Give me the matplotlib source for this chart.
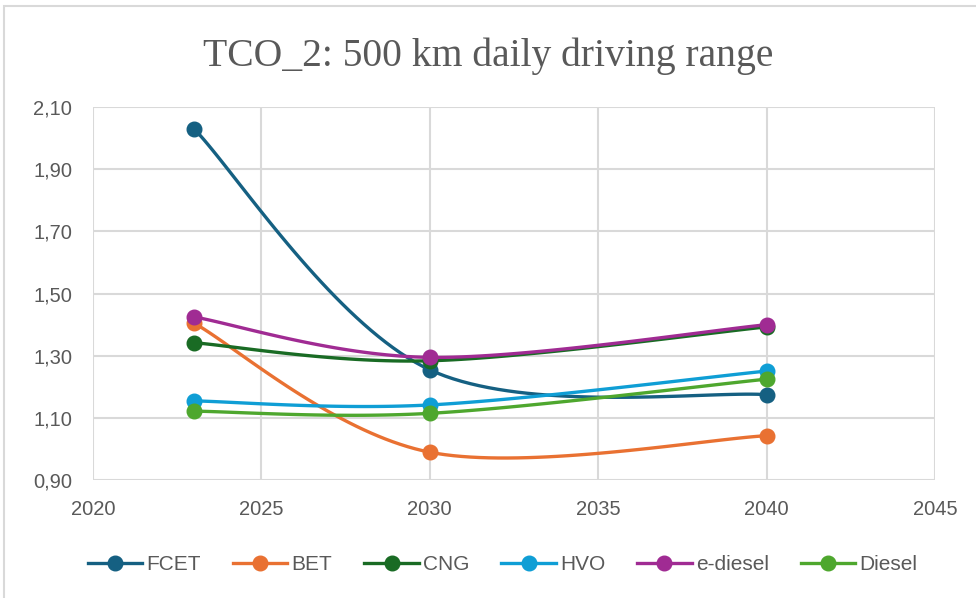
import numpy as np
import matplotlib
matplotlib.use("Agg")
import matplotlib.pyplot as plt
from matplotlib.ticker import FuncFormatter
from matplotlib.patches import Rectangle

# data
years = [2023, 2030, 2040]
fcet = [2.030, 1.255, 1.175]
bet = [1.405, 0.990, 1.043]
cng = [1.342, 1.284, 1.393]
hvo = [1.155, 1.142, 1.251]
e_diesel = [1.425, 1.295, 1.400]
diesel = [1.122, 1.115, 1.225]

series_names = ["FCET", "BET", "CNG", "HVO", "e-diesel", "Diesel"]
series_values = [fcet, bet, cng, hvo, e_diesel, diesel]
colors = ["#156082", "#E97132", "#196B24", "#0F9ED5", "#A02B93", "#4EA72E"]


def smooth(x, y, n=40):
    """Excel-like smoothed line (cardinal bezier through the points)"""
    x = np.asarray(x, float)
    y = np.asarray(y, float)
    px = np.concatenate([[x[0]], x, [x[-1]]])
    py = np.concatenate([[y[0]], y, [y[-1]]])
    out_x, out_y = [], []
    t = np.linspace(0, 1, n)
    for i in range(1, len(px) - 2):
        p0 = np.array([px[i], py[i]])
        p3 = np.array([px[i + 1], py[i + 1]])
        p1 = p0 + (np.array([px[i + 1], py[i + 1]]) - np.array([px[i - 1], py[i - 1]])) / 6
        p2 = p3 - (np.array([px[i + 2], py[i + 2]]) - np.array([px[i], py[i]])) / 6
        b = ((1 - t) ** 3)[:, None] * p0 + (3 * (1 - t) ** 2 * t)[:, None] * p1 \
            + (3 * (1 - t) * t ** 2)[:, None] * p2 + (t ** 3)[:, None] * p3
        out_x.extend(b[:, 0])
        out_y.extend(b[:, 1])
    return out_x, out_y


fig = plt.figure(figsize=(9.76, 5.98), dpi=100)
ax = fig.add_axes([0.0953, 0.197, 0.8627, 0.624])

for name, vals, col in zip(series_names, series_values, colors):
    sx, sy = smooth(years, vals)
    ax.plot(sx, sy, color=col, lw=2.4, solid_capstyle="round", zorder=3)
    ax.plot(years, vals, "o", color=col, ms=10.5, zorder=4)
    ax.plot([], [], color=col, lw=2.4, marker="o", ms=10.5, label=name)

ax.set_xlim(2020, 2045)
ax.set_ylim(0.90, 2.10)
ax.set_xticks(range(2020, 2046, 5))
ax.set_yticks(np.arange(0.90, 2.11, 0.20))
ax.yaxis.set_major_formatter(FuncFormatter(lambda v, p: f"{v:.2f}".replace(".", ",")))

ax.grid(True, color="#d9d9d9", lw=1.5)
ax.set_axisbelow(True)
for s in ax.spines.values():
    s.set_visible(False)
ax.tick_params(axis="y", length=0, labelsize=14.5, labelcolor="#595959", pad=15)
ax.tick_params(axis="x", length=0, labelsize=14.5, labelcolor="#595959", pad=14)
for lab in ax.get_xticklabels() + ax.get_yticklabels():
    lab.set_fontfamily("Liberation Sans")

fig.text(0.5, 0.906, "TCO_2: 500 km daily driving range", ha="center", va="center",
         fontsize=28.5, color="#595959", fontfamily="Liberation Serif")

leg = fig.legend(loc="center", bbox_to_anchor=(0.515, 0.056), ncol=6, frameon=False,
                 handlelength=2.6, columnspacing=1.55, handletextpad=0.2,
                 prop={"family": "Liberation Sans", "size": 15})
for t in leg.get_texts():
    t.set_color("#595959")

# outer chart frame
fig.patches.append(Rectangle((0.004, -0.1), 1.2, 1.09, transform=fig.transFigure,
                             fill=False, edgecolor="#d9d9d9", lw=1.5))

fig.savefig("out.png", dpi=100)
